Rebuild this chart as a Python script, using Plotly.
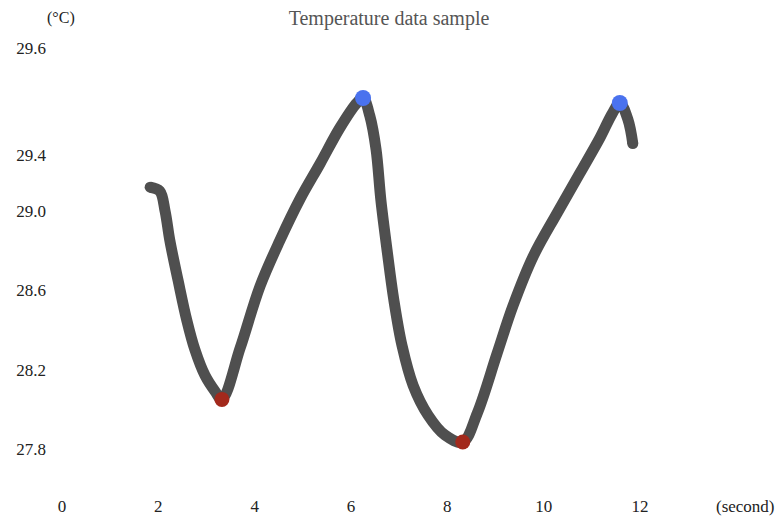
import plotly.graph_objects as go

# Data
time_s = [1.83, 2.03, 2.14, 2.24, 2.41, 2.59, 2.76, 2.97, 3.18, 3.32,
          3.70, 4.11, 4.52, 4.94, 5.36, 5.77, 6.12, 6.25,
          6.39, 6.52, 6.62, 6.75, 6.89, 7.06, 7.29, 7.60, 7.95, 8.32,
          8.62, 9.03, 9.36, 9.78, 10.28, 10.75, 11.17, 11.42, 11.58,
          11.75, 11.85]
temp_c = [29.12, 29.10, 29.00, 28.85, 28.65, 28.45, 28.30, 28.17, 28.09, 28.05,
          28.31, 28.62, 28.85, 29.06, 29.24, 29.42, 29.545, 29.57,
          29.48, 29.31, 29.055, 28.80, 28.55, 28.32, 28.12, 27.97, 27.87, 27.835,
          27.98, 28.28, 28.52, 28.77, 28.99, 29.19, 29.37, 29.49, 29.545,
          29.46, 29.34]

min_t = [3.32, 8.32]
min_v = [28.05, 27.835]
max_t = [6.25, 11.58]
max_v = [29.57, 29.545]

x_ticks = [0, 2, 4, 6, 8, 10, 12]
y_tick_labels = ["27.8", "28.2", "28.6", "29.0", "29.4", "29.6"]
y_tick_pos = [27.8, 28.2, 28.6, 29.0, 29.28, 29.82]

FONT = "Liberation Serif"

fig = go.Figure()
fig.add_trace(go.Scatter(x=time_s, y=temp_c, mode="lines",
                         line=dict(color="#4f4f4f", width=11, shape="spline", smoothing=1.0),
                         hoverinfo="skip", showlegend=False))
fig.add_trace(go.Scatter(x=[time_s[0], time_s[-1]], y=[temp_c[0], temp_c[-1]], mode="markers",
                         marker=dict(color="#4f4f4f", size=11), hoverinfo="skip", showlegend=False))
fig.add_trace(go.Scatter(x=min_t, y=min_v, mode="markers",
                         marker=dict(color="#a3291c", size=15), showlegend=False, cliponaxis=False))
fig.add_trace(go.Scatter(x=max_t, y=max_v, mode="markers",
                         marker=dict(color="#4a72ee", size=16), showlegend=False, cliponaxis=False))

fig.update_layout(
    width=778, height=523,
    margin=dict(l=50, r=78, t=30, b=33, autoexpand=False),
    paper_bgcolor="white", plot_bgcolor="white",
    font=dict(family=FONT, size=17, color="#222"),
    title=dict(text="Temperature data sample", x=0.5, xanchor="center", y=0.965, yanchor="middle",
               font=dict(family=FONT, size=20, color="#555")),
    xaxis=dict(range=[-0.249, 13.245], tickvals=x_ticks, showgrid=False, zeroline=False,
               showline=False, ticks="", ticklabelstandoff=4, automargin=False,
               tickfont=dict(size=17, color="#222")),
    yaxis=dict(range=[27.593, 29.913], tickvals=y_tick_pos, ticktext=y_tick_labels,
               showgrid=False, zeroline=False, showline=False, ticks="", automargin=False,
               ticklabelstandoff=3, tickfont=dict(size=17, color="#222")),
    annotations=[
        dict(text="(°C)", xref="paper", yref="paper", x=(61-50)/650, y=1.0 + 12/460,
             xanchor="center", yanchor="middle", showarrow=False,
             font=dict(family=FONT, size=16, color="#222")),
        dict(text="(second)", x=(745-50)/650, y=-(507-490)/460, xref="paper", yref="paper",
             xanchor="center", yanchor="middle", showarrow=False,
             font=dict(family=FONT, size=17, color="#222")),
    ],
)
fig.write_html("out.html")
